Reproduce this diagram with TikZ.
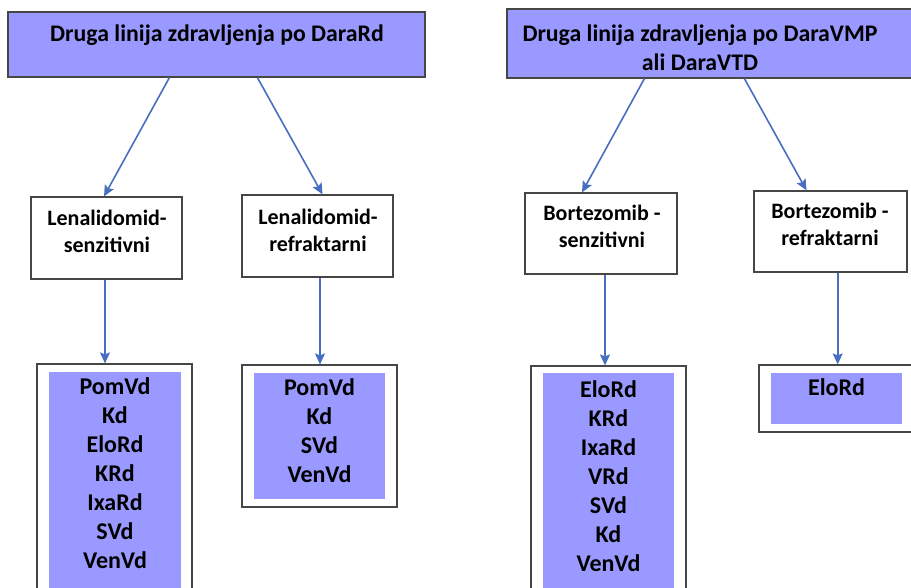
\documentclass[tikz,border=0pt]{standalone}
\usepackage{fontspec}
\setmainfont{Carlito}
\usetikzlibrary{arrows.meta}
\definecolor{boxfill}{RGB}{153,153,255}
\definecolor{arrowblue}{RGB}{72,110,192}
\definecolor{edge}{RGB}{70,70,70}

\begin{document}
\begin{tikzpicture}[x=1pt,y=-1pt,
  box/.style={draw=edge, line width=1.2pt, fill=white, inner sep=0pt},
  headbox/.style={draw=edge, line width=1.2pt, fill=boxfill, inner sep=0pt},
  panel/.style={fill=boxfill, inner sep=0pt},
  headtxt/.style={font=\fontsize{23.8}{28.3}\selectfont\bfseries, align=center, inner sep=0pt, anchor=base},
  midtxt/.style={font=\fontsize{22}{27}\selectfont\bfseries, align=center, inner sep=0pt, anchor=base},
  listtxt/.style={font=\fontsize{24}{29}\selectfont\bfseries, align=center, inner sep=0pt, anchor=base},
  link/.style={draw=arrowblue, line width=1.6pt, -{Stealth[length=11pt,width=10pt,inset=2pt]}}
]
\useasboundingbox (0,0) rectangle (911,587);
\clip (0,0) rectangle (911,587);

% top level boxes (text nodes are placed by the baseline of their last line)
\node[headbox, minimum width=417pt, minimum height=65pt] (tl) at (216.5,44.5) {};
\node[headbox, minimum width=433pt, minimum height=69pt] (tr) at (723.5,43.5) {};
\node[headtxt] (tlt) at (217,41.5) {Druga linija zdravljenja po DaraRd};
\node[headtxt] (trt) at (700,70) {Druga linija zdravljenja po DaraVMP\\ali DaraVTD};

% second level boxes
\node[box, minimum width=151pt, minimum height=82pt] (ls) at (106.5,238) {};
\node[box, minimum width=151pt, minimum height=82pt] (lr) at (317.5,236) {};
\node[box, minimum width=152pt, minimum height=81pt] (bs) at (601,233.5) {};
\node[box, minimum width=153pt, minimum height=81pt] (br) at (830.5,231.5) {};
\node[midtxt] (lst) at (107,252.5) {Lenalidomid-\\senzitivni};
\node[midtxt] (lrt) at (318,251) {Lenalidomid-\\refraktarni};
\node[midtxt] (bst) at (602,247) {Bortezomib -\\senzitivni};
\node[midtxt] (brt) at (830,245.5) {Bortezomib -\\refraktarni};

% therapy lists
\node[box, minimum width=155pt, minimum height=260pt] (l1) at (114.5,494) {};
\node[panel, minimum width=132pt, minimum height=250pt] (p1) at (115,497) {};
\node[box, minimum width=155pt, minimum height=142pt] (l2) at (319.5,436) {};
\node[panel, minimum width=131pt, minimum height=126pt] (p2) at (319.5,436) {};
\node[box, minimum width=155pt, minimum height=260pt] (r1) at (608.5,496) {};
\node[panel, minimum width=131pt, minimum height=250pt] (q1) at (608.5,498) {};
\node[box, minimum width=170pt, minimum height=67pt] (r2) at (844,398.5) {};
\node[panel, minimum width=131pt, minimum height=51pt] (q2) at (836.5,398.5) {};

\node[listtxt] (l1t) at (115,568) {PomVd\\Kd\\EloRd\\KRd\\IxaRd\\SVd\\VenVd};
\node[listtxt] (l2t) at (319.5,482) {PomVd\\Kd\\SVd\\VenVd};
\node[listtxt] (r1t) at (608.5,571) {EloRd\\KRd\\IxaRd\\VRd\\SVd\\Kd\\VenVd};
\node[listtxt] (r2t) at (836.5,395.5) {EloRd};

% connectors
\draw[link] ([xshift=162pt]tl.south west) -- ([xshift=-2.5pt]ls.north);
\draw[link] ([xshift=250pt]tl.south west) -- ([xshift=5pt]lr.north);
\draw[link] ([xshift=138pt]tr.south west) -- ([xshift=-19pt]bs.north);
\draw[link] ([xshift=238pt]tr.south west) -- ([xshift=-24pt]br.north);
\draw[link] ([xshift=-1.5pt]ls.south) -- ([xshift=-1.5pt]ls.south |- l1.north);
\draw[link] ([xshift=2.5pt]lr.south) -- ([xshift=2.5pt]lr.south |- l2.north);
\draw[link] ([xshift=4pt]bs.south) -- ([xshift=4pt]bs.south |- r1.north);
\draw[link] ([xshift=7.2pt]br.south) -- ([xshift=7.2pt]br.south |- r2.north);
\end{tikzpicture}
\end{document}
